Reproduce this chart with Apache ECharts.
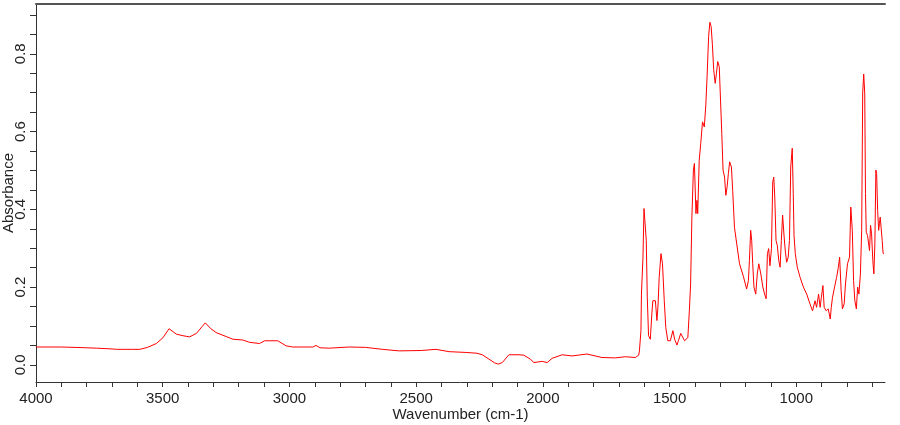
<!DOCTYPE html>
<html>
<head>
<meta charset="utf-8">
<script src="https://cdn.jsdelivr.net/npm/echarts@6/dist/echarts.min.js"></script>
<style>
html,body{margin:0;padding:0;background:#fff;}
#chart{width:900px;height:425px;}
</style>
</head>
<body>
<div id="chart"></div>
<script>
// Wavenumber (cm-1), decreasing
var wavenumbers = [4000,3900,3800,3761,3700,3682,3620,3590,3560,3525,3499,3475,3446,3420,3394,3367,3345,3332,3310,3289,3250,3223,3184,3157,3118,3098,3046,3013,2987,2908,2895,2880,2843,2764,2700,2633,2567,2480,2422,2370,2304,2260,2239,2213,2190,2176,2160,2134,2094,2075,2050,2035,2003,1983,1963,1924,1885,1826,1767,1714,1675,1635,1622,1619,1613,1611,1605,1601,1596,1592,1588,1583,1576,1570,1566,1556,1550,1546,1541,1534,1528,1521,1515,1507,1497,1487,1480,1471,1465,1456,1449,1441,1434,1428,1422,1417,1412,1406,1402,1396,1392,1389,1383,1377,1370,1363,1357,1352,1346,1341,1336,1331,1326,1320,1315,1310,1304,1299,1294,1289,1283,1278,1273,1268,1263,1256,1251,1244,1235,1224,1209,1196,1193,1189,1185,1180,1176,1172,1167,1160,1154,1148,1140,1132,1125,1119,1114,1109,1104,1098,1093,1089,1085,1080,1075,1069,1064,1059,1054,1048,1043,1038,1032,1027,1022,1016,1012,1009,1004,996,985,972,959,946,936,926,920,912,906,901,895,890,882,874,866,862,857,849,841,834,829,823,818,811,806,798,790,785,779,774,769,763,758,753,747,742,738,734,730,727,724,719,714,711,707,703,698,694,690,686,683,679,675,672,669,665,661,658,656];
// Absorbance
var absorbance = [0.046,0.046,0.044,0.043,0.041,0.040,0.040,0.040,0.045,0.055,0.070,0.093,0.079,0.075,0.072,0.081,0.098,0.108,0.093,0.083,0.073,0.066,0.064,0.058,0.055,0.062,0.062,0.049,0.046,0.046,0.050,0.044,0.043,0.046,0.045,0.040,0.036,0.037,0.040,0.034,0.032,0.030,0.026,0.015,0.005,0.002,0.006,0.026,0.026,0.025,0.015,0.006,0.009,0.006,0.017,0.026,0.023,0.028,0.019,0.018,0.021,0.019,0.025,0.036,0.088,0.182,0.277,0.402,0.398,0.320,0.174,0.075,0.066,0.131,0.165,0.165,0.114,0.148,0.225,0.286,0.260,0.165,0.096,0.062,0.062,0.088,0.066,0.051,0.062,0.081,0.078,0.062,0.058,0.070,0.139,0.208,0.380,0.501,0.518,0.389,0.423,0.389,0.526,0.570,0.625,0.612,0.668,0.741,0.845,0.881,0.870,0.823,0.759,0.724,0.750,0.780,0.767,0.681,0.595,0.501,0.483,0.436,0.458,0.492,0.522,0.509,0.449,0.354,0.311,0.260,0.228,0.195,0.191,0.217,0.268,0.346,0.320,0.260,0.200,0.182,0.234,0.260,0.234,0.200,0.182,0.170,0.286,0.299,0.255,0.299,0.470,0.483,0.432,0.320,0.307,0.268,0.251,0.320,0.385,0.329,0.290,0.264,0.277,0.320,0.509,0.557,0.441,0.333,0.286,0.251,0.225,0.200,0.182,0.157,0.139,0.165,0.148,0.182,0.148,0.174,0.204,0.148,0.139,0.144,0.118,0.148,0.174,0.200,0.225,0.251,0.277,0.191,0.144,0.157,0.208,0.260,0.277,0.406,0.346,0.217,0.165,0.144,0.200,0.182,0.234,0.346,0.699,0.748,0.699,0.441,0.341,0.333,0.337,0.294,0.359,0.337,0.268,0.234,0.311,0.501,0.492,0.397,0.346,0.363,0.380,0.350,0.320,0.290,0.285];

var xTicks = [4000,3900,3800,3700,3600,3500,3400,3300,3200,3100,3000,2900,2800,2700,2600,2500,2400,2300,2200,2100,2000,1900,1800,1700,1600,1500,1400,1300,1200,1100,1000,900,800,700];
var xLabels = [4000,3500,3000,2500,2000,1500,1000];
var yTicks = [0,0.05,0.1,0.15,0.2,0.25,0.3,0.35,0.4,0.45,0.5,0.55,0.6,0.65,0.7,0.75,0.8,0.85,0.9];
var yLabels = [0,0.2,0.4,0.6,0.8];

var xName = 'Wavenumber (cm-1)';
var yName = 'Absorbance';

var points = wavenumbers.map(function(w,i){return [w, absorbance[i]];});
var font = 'Liberation Sans';
var txt = '#222';

var chart = echarts.init(document.getElementById('chart'), null, {renderer:'canvas'});
chart.setOption({
  animation:false,
  backgroundColor:'#fff',
  grid:{left:36,right:15,top:4,bottom:43,containLabel:false,outerBoundsMode:'none'},
  xAxis:[{
    type:'value', inverse:true, min:650, max:4000,
    name:xName, nameLocation:'middle', nameGap:25, nameMoveOverlap:false,
    nameTextStyle:{fontFamily:font,fontSize:15,color:txt},
    axisLine:{show:true,onZero:false,lineStyle:{color:'#333',width:1}},
    axisTick:{show:true,inside:false,length:5,customValues:xTicks,lineStyle:{color:'#333'}},
    axisLabel:{show:true,customValues:xLabels,margin:9,fontFamily:font,fontSize:15,color:txt,
      formatter:function(v){return String(v);}},
    splitLine:{show:false}
  },{
    type:'value', position:'top', inverse:true, min:650, max:4000,
    axisLine:{show:true,onZero:false,lineStyle:{color:'#555',width:2}},
    axisTick:{show:false}, axisLabel:{show:false}, splitLine:{show:false}
  }],
  yAxis:{
    type:'value', min:-0.044, max:0.928,
    name:yName, nameLocation:'middle', nameGap:20, nameRotate:90, nameMoveOverlap:false,
    nameTextStyle:{fontFamily:font,fontSize:15,color:txt},
    axisLine:{show:true,onZero:false,lineStyle:{color:'#333',width:1}},
    axisTick:{show:true,inside:false,length:6,customValues:yTicks,lineStyle:{color:'#333'}},
    axisLabel:{show:true,customValues:yLabels,rotate:90,margin:8,fontFamily:font,fontSize:15,color:txt,
      formatter:function(v){return v.toFixed(1);}},
    splitLine:{show:false}
  },
  series:[{
    type:'line', data:points, xAxisIndex:0, showSymbol:false, symbol:'none',
    lineStyle:{color:'#ff0000',width:1}, silent:true
  }]
});
</script>
</body>
</html>
